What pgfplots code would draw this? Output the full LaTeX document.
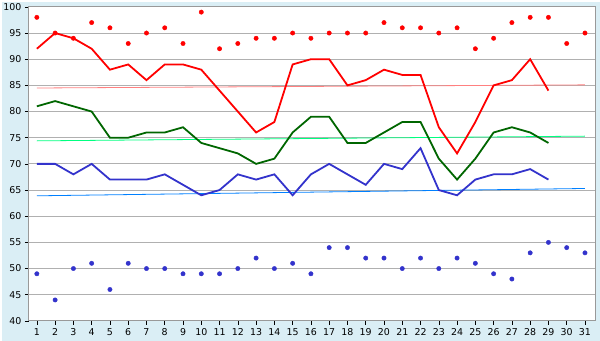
\documentclass[border=0pt]{standalone}
\usepackage{pgfplots}
\pgfplotsset{compat=1.18}
\usepackage{fontspec}
\setmainfont{DejaVu Sans}
\definecolor{bgblue}{RGB}{218,238,245}
\definecolor{gridgray}{RGB}{176,176,176}
\definecolor{sred}{RGB}{255,0,0}
\definecolor{sgreen}{RGB}{0,102,0}
\definecolor{sblue}{RGB}{51,51,204}
\definecolor{tred}{RGB}{255,128,128}
\definecolor{tgreen}{RGB}{0,255,128}
\definecolor{tblue}{RGB}{0,128,255}
\begin{document}
\begin{tikzpicture}[x=1bp,y=1bp]
\fill[bgblue] (0,0) rectangle (600,340);
\begin{axis}[
  at={(27bp,20bp)}, anchor=south west,
  scale only axis, width=568bp, height=315bp,
  xmin=0.56, xmax=31.55, ymin=40, ymax=100,
  xtick={1,...,31}, ytick={40,45,...,100},
  ymajorgrids, grid style={gridgray, line width=0.8bp},
  axis line style={gray!80, line width=0.8bp},
  axis background/.style={fill=white},
  tick align=outside, tick pos=left,
  major tick length=4bp,
  tick style={black, line width=0.6bp},
  tick label style={font=\fontsize{9.5}{10}\selectfont},
  /pgf/number format/assume math mode=true,
  clip=false,
]
% trend lines
\addplot[tred, line width=0.8bp] coordinates {(1,84.5) (31,85.1)};
\addplot[tgreen, line width=0.8bp] coordinates {(1,74.4) (31,75.3)};
\addplot[tblue, line width=0.8bp] coordinates {(1,63.9) (31,65.3)};
% red line
\addplot[sred, line width=1.8bp] coordinates {
(1,92)(2,95)(3,94)(4,92)(5,88)(6,89)(7,86)(8,89)(9,89)(10,88)
(11,84)(12,80)(13,76)(14,78)(15,89)(16,90)(17,90)(18,85)(19,86)(20,88)
(21,87)(22,87)(23,77)(24,72)(25,78)(26,85)(27,86)(28,90)(29,84)};
% green line
\addplot[sgreen, line width=1.8bp] coordinates {
(1,81)(2,82)(3,81)(4,80)(5,75)(6,75)(7,76)(8,76)(9,77)(10,74)
(11,73)(12,72)(13,70)(14,71)(15,76)(16,79)(17,79)(18,74)(19,74)(20,76)
(21,78)(22,78)(23,71)(24,67)(25,71)(26,76)(27,77)(28,76)(29,74)};
% blue line
\addplot[sblue, line width=1.8bp] coordinates {
(1,70)(2,70)(3,68)(4,70)(5,67)(6,67)(7,67)(8,68)(9,66)(10,64)
(11,65)(12,68)(13,67)(14,68)(15,64)(16,68)(17,70)(18,68)(19,66)(20,70)
(21,69)(22,73)(23,65)(24,64)(25,67)(26,68)(27,68)(28,69)(29,67)};
% red markers
\addplot[only marks, mark=*, mark size=2.2bp, sred] coordinates {
(1,98)(2,95)(3,94)(4,97)(5,96)(6,93)(7,95)(8,96)(9,93)(10,99)
(11,92)(12,93)(13,94)(14,94)(15,95)(16,94)(17,95)(18,95)(19,95)(20,97)
(21,96)(22,96)(23,95)(24,96)(25,92)(26,94)(27,97)(28,98)(29,98)(30,93)(31,95)};
% blue markers
\addplot[only marks, mark=*, mark size=2.2bp, sblue] coordinates {
(1,49)(2,44)(3,50)(4,51)(5,46)(6,51)(7,50)(8,50)(9,49)(10,49)
(11,49)(12,50)(13,52)(14,50)(15,51)(16,49)(17,54)(18,54)(19,52)(20,52)
(21,50)(22,52)(23,50)(24,52)(25,51)(26,49)(27,48)(28,53)(29,55)(30,54)(31,53)};
\end{axis}
\end{tikzpicture}
\end{document}
